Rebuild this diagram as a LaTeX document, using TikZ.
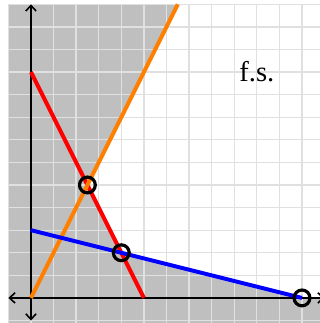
\documentclass[tikz,border=0pt]{standalone}
\usepackage{fontspec}
\setmainfont{Liberation Serif}
\usetikzlibrary{arrows.meta}
\begin{document}
\begin{tikzpicture}[
    x=5mm, y=5mm,
    font=\fontsize{18}{22}\selectfont,
    region/.style={fill=black!25},
    feasible/.style={fill=white},
    gridline/.style={draw=black!12, line width=0.8pt, step=5mm},
    axis/.style={{Straight Barb[length=3.5pt,width=6.5pt]}-{Straight Barb[length=3.5pt,width=6.5pt]}, line width=1pt},
    constr/.style={line width=2.5pt},
    vertex/.style={draw, circle, line width=2pt, minimum size=3.5mm, inner sep=0pt}
]
\useasboundingbox (-1.37,-1.11) rectangle (12.79,13.19);

% shaded half-planes and the feasible set
\fill[region] (-1,-1.2) rectangle (13,13);
\fill[feasible] (6.5,13) -- (2.5,5) -- (4,2) -- (12,0) -- (13,0) -- (13,13) -- cycle;
\draw[gridline] (-1,-1.2) grid (13,13);

% axes
\coordinate (O) at (0,0);
\coordinate (xl) at (-1,0);
\coordinate (xr) at (13,0);
\coordinate (yb) at (0,-1);
\coordinate (yt) at (0,13);
\draw[axis] (xl) -- (xr);
\draw[axis] (yb) -- (yt);

% constraint lines
\coordinate (r0) at (0,10);
\coordinate (r1) at (5,0);
\coordinate (b0) at (0,3);
\coordinate (b1) at (12,0);
\coordinate (o1) at (6.5,13);
\draw[constr, red] (r0) -- (r1);
\draw[constr, orange] (O) -- (o1);
\draw[constr, blue] (b0) -- (b1);

% corner points
\node[vertex] (A) at (2.5,5) {};
\node[vertex] (B) at (4,2) {};
\node[vertex] (C) at (12,0) {};

\node (fs) at (10,10) {f.s.};
\end{tikzpicture}
\end{document}
